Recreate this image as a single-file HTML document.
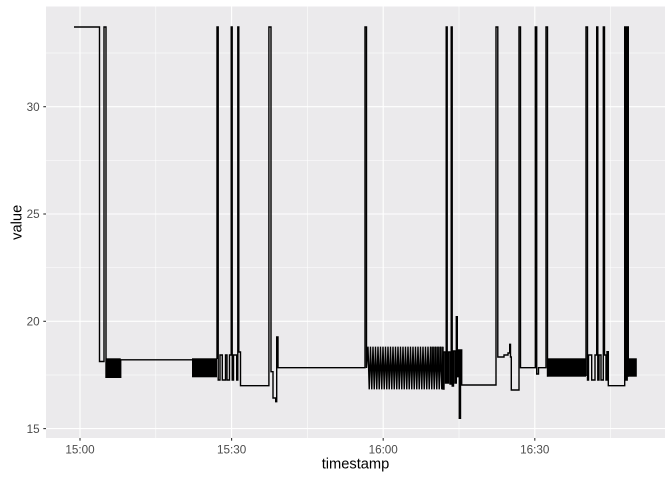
<!DOCTYPE html>
<html>
<head>
<meta charset="utf-8">
<style>
html,body{margin:0;padding:0;background:#fff;}
svg{display:block;}
text{font-family:"Liberation Sans",Arial,sans-serif;}
</style>
</head>
<body>
<svg width="672" height="480" viewBox="0 0 672 480" xmlns="http://www.w3.org/2000/svg">
<rect x="0" y="0" width="672" height="480" fill="#ffffff"/>
<!-- panel -->
<rect x="46" y="6.5" width="619" height="431.5" fill="#EBEAEC"/>
<!-- minor grid -->
<g stroke="#ffffff" stroke-width="0.55" fill="none">
<line x1="46" x2="665" y1="375" y2="375"/>
<line x1="46" x2="665" y1="267.6" y2="267.6"/>
<line x1="46" x2="665" y1="160.4" y2="160.4"/>
<line x1="46" x2="665" y1="53" y2="53"/>
<line x1="155.8" x2="155.8" y1="6.5" y2="438"/>
<line x1="307.4" x2="307.4" y1="6.5" y2="438"/>
<line x1="459" x2="459" y1="6.5" y2="438"/>
<line x1="610.6" x2="610.6" y1="6.5" y2="438"/>
</g>
<!-- major grid -->
<g stroke="#ffffff" stroke-width="1.1" fill="none">
<line x1="46" x2="665" y1="428.6" y2="428.6"/>
<line x1="46" x2="665" y1="321.3" y2="321.3"/>
<line x1="46" x2="665" y1="214" y2="214"/>
<line x1="46" x2="665" y1="106.7" y2="106.7"/>
<line x1="80" x2="80" y1="6.5" y2="438"/>
<line x1="231.6" x2="231.6" y1="6.5" y2="438"/>
<line x1="383.2" x2="383.2" y1="6.5" y2="438"/>
<line x1="534.8" x2="534.8" y1="6.5" y2="438"/>
</g>
<!-- blocks -->
<g fill="#000">
<rect x="106" y="358.3" width="14.7" height="19"/>
<rect x="192" y="358.3" width="25" height="19"/>
<rect x="547.7" y="358.3" width="38.3" height="18.4"/>
<rect x="628.3" y="358.3" width="8.5" height="18.4"/>
<rect x="430" y="346.7" width="13" height="25" fill-opacity="0.7"/>
</g>
<!-- series -->
<path fill="none" stroke="#000" stroke-width="1.4" stroke-linejoin="miter" d="
M74,27 H99.5 V361.5 H104 V27 H106 V377.3 H120.7 V359.8 H192
M217,359 V27 H218.2 V380 H220 V355 H222.3 V380 H225.5 V355 H227 V380 H229.5 V355 H231.2 V27 H232.2 V380 H233.5 V355 H236.7 V380 H237.8 V27 H238.8 V352 H240.5 V385.7 H268.9 V27 H271 V371.7 H273 V398 H275.7 V401.7 H276.7 V337 H278 V367.7 H365 V27 H366.5 V368 L368,346.7
L369.25,389.3 L370.5,346.7 L371.75,389.3 L373,346.7 L374.25,389.3 L375.5,346.7 L376.75,389.3 L378,346.7 L379.25,389.3 L380.5,346.7 L381.75,389.3 L383,346.7 L384.25,389.3 L385.5,346.7 L386.75,389.3 L388,346.7 L389.25,389.3 L390.5,346.7 L391.75,389.3 L393,346.7 L394.25,389.3 L395.5,346.7 L396.75,389.3 L398,346.7 L399.25,389.3 L400.5,346.7 L401.75,389.3 L403,346.7 L404.25,389.3 L405.5,346.7 L406.75,389.3 L408,346.7 L409.25,389.3 L410.5,346.7 L411.75,389.3 L413,346.7 L414.25,389.3 L415.5,346.7 L416.75,389.3 L418,346.7 L419.25,389.3 L420.5,346.7 L421.75,389.3 L423,346.7 L424.25,389.3 L425.5,346.7 L426.75,389.3 L428,346.7 L429.25,389.3 L430.5,346.7 L431.75,389.3 L433,346.7 L434.25,389.3 L435.5,346.7 L436.75,389.3 L438,346.7 L439.25,389.3 L440.5,346.7 L441.75,389.3 L443,346.7 V389
H444 V352 H445.5 V383 H446.2 V27 H447.2 V383 H448.5 V352 H450 V384 H451.2 V27 H452.2 V386 H453.5 V351 H455 V383 H456.3 V316.7 H457.3 V376.7 H458.3 V350 H459.3 V418.3 H460.5 V350 H461.7 V385 H496 V27 H497.8 V357 H504 V355 H508 V353 H509.7 V344.3 H510.5 V357 H511.3 V390 H519 V27 H520.5 V367.7 H535.3 V27 H536.7 V374 H538.5 V367.7 H546 V27 H547.5 V376.7
M586,376 V27 H587.5 V380 H588.5 V355 H591.7 V380 H595 V355 H596.7 V27 H597.8 V380 H599 V355 H601 V380 H603.3 V27 H604.5 V355 H606 V380 H607 V351.7 H608.3 V385.7 H624.7 V27 H626 V380 H627.2 V27 H628.3 V376.7
"/>
<!-- ticks -->
<g stroke="#333333" stroke-width="1.1">
<line x1="43.3" x2="46" y1="428.6" y2="428.6"/>
<line x1="43.3" x2="46" y1="321.3" y2="321.3"/>
<line x1="43.3" x2="46" y1="214" y2="214"/>
<line x1="43.3" x2="46" y1="106.7" y2="106.7"/>
<line x1="80" x2="80" y1="438" y2="440.7"/>
<line x1="231.6" x2="231.6" y1="438" y2="440.7"/>
<line x1="383.2" x2="383.2" y1="438" y2="440.7"/>
<line x1="534.8" x2="534.8" y1="438" y2="440.7"/>
</g>
<!-- tick labels -->
<g fill="#4D4D4D" font-size="11.7">
<text x="39.6" y="432.8" text-anchor="end">15</text>
<text x="39.6" y="325.5" text-anchor="end">20</text>
<text x="39.6" y="218.2" text-anchor="end">25</text>
<text x="39.6" y="110.9" text-anchor="end">30</text>
<text x="80" y="453.6" text-anchor="middle">15:00</text>
<text x="231.6" y="453.6" text-anchor="middle">15:30</text>
<text x="383.2" y="453.6" text-anchor="middle">16:00</text>
<text x="534.8" y="453.6" text-anchor="middle">16:30</text>
</g>
<!-- axis titles -->
<text x="355.5" y="468.7" text-anchor="middle" font-size="14.67" fill="#000">timestamp</text>
<text x="0" y="0" text-anchor="middle" font-size="14.67" fill="#000" transform="translate(21.5,222.3) rotate(-90)">value</text>
</svg>
</body>
</html>
